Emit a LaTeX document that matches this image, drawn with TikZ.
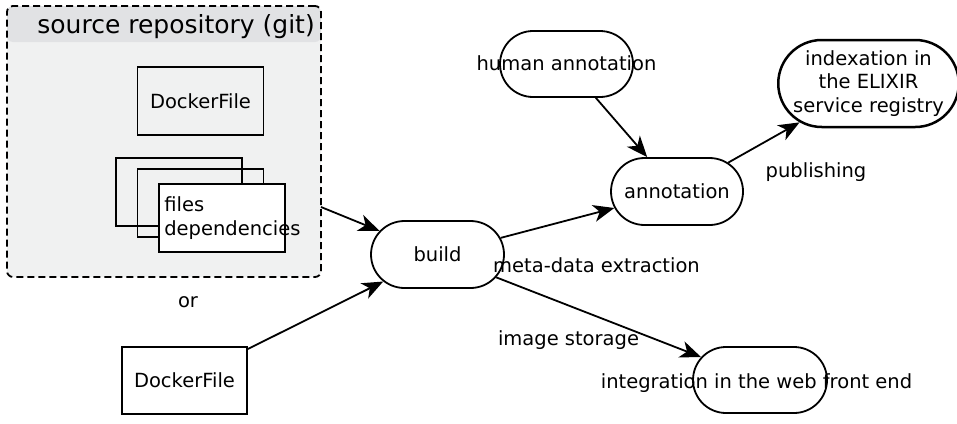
\documentclass[tikz,border=0pt]{standalone}
\usepackage{fontspec}
\setmainfont{DejaVu Sans}
\usepackage{tikz}
\usetikzlibrary{arrows.meta,shapes.misc,positioning}
\definecolor{repofill}{HTML}{F0F1F1}
\definecolor{repohead}{HTML}{E1E2E4}
\tikzset{
  txt/.style={font=\fontsize{19.5}{23.3}\selectfont, inner sep=0pt},
  box/.style={draw, line width=1.8pt, minimum width=126pt, minimum height=68pt, inner sep=0pt, txt},
  pill/.style={draw, rounded rectangle, line width=1.8pt, inner sep=0pt, fill=white, txt},
  repobox/.style={draw, dash pattern=on 7pt off 4pt, line width=1.8pt, rounded corners=6pt,
    fill=repofill, minimum width=314pt, minimum height=271pt, inner sep=0pt,
    path picture={\fill[repohead] (path picture bounding box.north west) rectangle
      ([yshift=-36pt]path picture bounding box.north east);}},
  arr/.style={line width=1.8pt, -{Stealth[length=21pt,width=17pt,inset=6pt]}},
}

\begin{document}
\begin{tikzpicture}[x=1pt,y=-1pt]
\useasboundingbox (0,0) rectangle (957,423);
% source repository
\node[repobox] (repo) at (164,141.5) {};
\node[txt, font=\fontsize{25}{30}\selectfont, anchor=base east] (repotitle) at (315,33) {source repository (git)};
\node[box] (dockerin) at (200.5,101) {DockerFile};
\foreach \i/\x/\y in {A/179/192, B/200.5/203} \node[box] (files\i) at (\x,\y) {};
\node[box, fill=white, label={[txt, anchor=west, align=left, xshift=6pt]west:files\\dependencies}] (files) at (222,218) {};
\coordinate (repoout) at (321,207);
\node[txt] (or) at (188,302) {or};
\node[box, minimum width=125pt, minimum height=67pt] (docker) at (184.5,380.5) {DockerFile};
% steps
\node[pill, minimum width=133pt, minimum height=67pt] (build) at (437.5,254.5) {build};
\node[pill, minimum width=132pt, minimum height=67pt] (annot) at (677,191.5) {annotation};
\node[pill, minimum width=133pt, minimum height=66pt, label={[txt, yshift=1pt]center:human annotation}] (human) at (566.5,64) {};
\node[pill, line width=2.5pt, minimum width=173pt, minimum height=87pt, align=center] (index) at (868.5,83.5) {indexation in\\the ELIXIR\\service registry};
\node[pill, minimum width=134pt, minimum height=66pt, label={[txt, xshift=-3.5pt, yshift=-3pt]center:integration in the web front end}] (integ) at (760,380) {};
% edge labels
\node[txt] (publish) at (816,172) {publishing};
\node[txt] (meta) at (596.5,265) {meta-data extraction};
\node[txt] (storage) at (568.5,340) {image storage};
% arrows
\draw[arr] (repoout) -- (build);
\draw[arr] (docker) -- (build);
\draw[arr] (build) -- (annot);
\draw[arr] (human) -- (annot);
\draw[arr] (annot) -- (index);
\draw[arr] (build) -- (integ);
\end{tikzpicture}
\end{document}
